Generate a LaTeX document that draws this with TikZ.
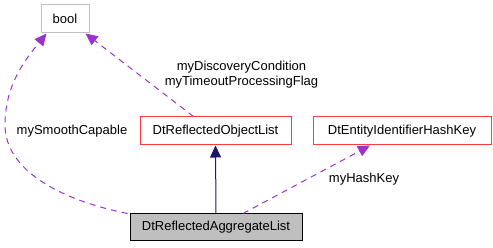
\documentclass[tikz,border=0pt]{standalone}
\usepackage{fontspec}
\setmainfont{Liberation Sans}
\usetikzlibrary{arrows.meta}
\definecolor{orchid}{RGB}{154,50,205}
\definecolor{midnight}{RGB}{25,25,112}
\definecolor{boxred}{RGB}{255,60,60}
\definecolor{boxgray}{RGB}{191,191,191}

\begin{document}
\begin{tikzpicture}[x=1pt, y=-1pt, font=\fontsize{13}{15}\selectfont,
    classbox/.style={draw=boxred, line width=1pt, minimum height=28pt, inner xsep=8pt},
    usage/.style={orchid, line width=1pt, dash pattern=on 6pt off 5pt,
      -{Triangle[length=12pt, width=11pt]}},
    inherit/.style={midnight, line width=1pt, -{Triangle[length=12pt, width=11pt]}}]
  \useasboundingbox (0,0) rectangle (493,248);
  % Les classes.
  \node[draw=boxgray, line width=1pt, minimum width=48pt, minimum height=28pt] (bool) at (65,19) {bool};
  \node[classbox, minimum width=151pt] (objlist) at (215.5,131) {DtReflectedObjectList};
  \node[classbox, minimum width=178pt] (hashkey) at (402,131) {DtEntityIdentifierHashKey};
  \node[draw=black, fill=boxgray, line width=1pt, minimum width=172pt, minimum height=27pt]
    (agglist) at (216,227.5) {DtReflectedAggregateList};
  % Les membres, en tirets.
  \draw[usage] ([xshift=-2pt]agglist.north west)
    .. controls (60,200) and (5,170) .. (5,125)
    .. controls (5,85) and (25,60) .. ([xshift=6pt]bool.south west);
  \draw[usage] ([xshift=-22pt]objlist.north) -- ([xshift=-4pt]bool.south east);
  \draw[usage] ([xshift=27pt]agglist.north) -- ([xshift=-32pt]hashkey.south);
  % L'heritage.
  \draw[inherit] (agglist.north) -- (objlist.south);
  % Les noms des membres.
  \node (lblsmooth) at (72,131) {mySmoothCapable};
  \node[align=center] (lbldisc) at (241.5,75) {myDiscoveryCondition\\myTimeoutProcessingFlag};
  \node (lblhash) at (364,179) {myHashKey};
\end{tikzpicture}
\end{document}
